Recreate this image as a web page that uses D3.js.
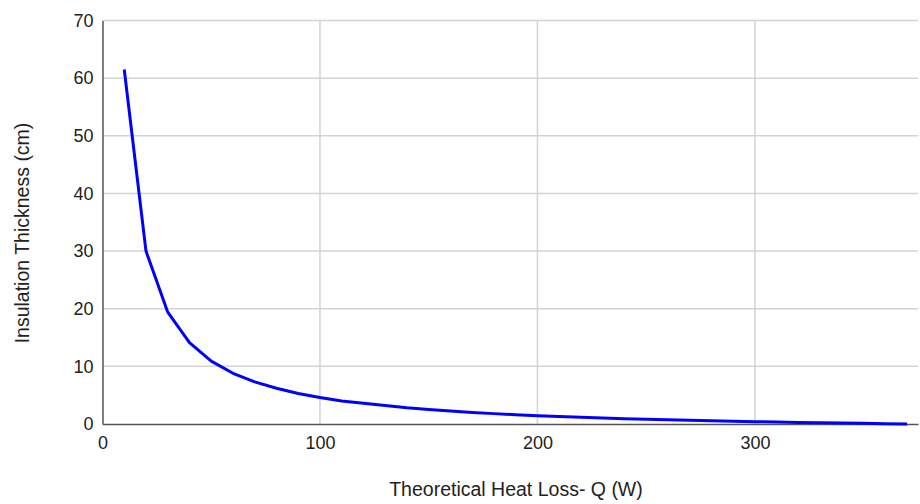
<!DOCTYPE html>
<html><head><meta charset="utf-8">
<script src="https://cdn.jsdelivr.net/npm/d3@7"></script>
<style>body{margin:0;background:#fff}svg{display:block}text{font-family:"Liberation Sans",Arial,sans-serif;fill:#222}</style>
</head><body><svg id="c" width="920" height="504"></svg>
<script>
const heatLoss = [10,20,30,40,50,60,70,80,90,100,110,120,130,140,150,160,170,180,190,200,210,220,230,240,250,260,270,280,290,300,310,320,330,340,350,360,370];
const thickness = [61.5,30.0,19.4,14.1,10.9,8.8,7.3,6.2,5.3,4.6,4.0,3.6,3.2,2.8,2.5,2.25,2.0,1.8,1.6,1.45,1.3,1.17,1.05,0.93,0.83,0.73,0.64,0.56,0.48,0.41,0.34,0.28,0.22,0.16,0.11,0.06,0.01];
const xTicks = [0,100,200,300];
const yTicks = [0,10,20,30,40,50,60,70];
const xTitle = "Theoretical Heat Loss- Q (W)";
const yTitle = "Insulation Thickness (cm)";

const svg = d3.select("#c");
const x = d3.scaleLinear().domain([0,375]).range([102.5,918]);
const y = d3.scaleLinear().domain([0,70]).range([424,20.5]);

// gridlines
svg.append("g").selectAll("line.h").data(yTicks.filter(d=>d>0)).join("line")
  .attr("x1",x(0)).attr("x2",x(375)).attr("y1",d=>y(d)).attr("y2",d=>y(d))
  .attr("stroke","#d3d3d3").attr("stroke-width",1.5);
svg.append("g").selectAll("line.v").data(xTicks.filter(d=>d>0)).join("line")
  .attr("x1",d=>x(d)).attr("x2",d=>x(d)).attr("y1",y(0)).attr("y2",y(70))
  .attr("stroke","#d3d3d3").attr("stroke-width",1.5);

// axes
const xAxis = d3.axisBottom(x).tickValues(xTicks).tickSize(0).tickPadding(12).tickFormat(d3.format("d"));
const gx = svg.append("g").attr("transform",`translate(0,${y(0)})`).call(xAxis);
gx.select(".domain").attr("stroke","#555").attr("stroke-width",1.5);
gx.selectAll("text").style("font-size","18px").attr("fill","#222");

const yAxis = d3.axisLeft(y).tickValues(yTicks).tickSize(0).tickPadding(9).tickFormat(d3.format("d"));
const gy = svg.append("g").attr("transform",`translate(${x(0)},0)`).call(yAxis);
gy.select(".domain").attr("stroke","#555").attr("stroke-width",1.5);
gy.selectAll("text").style("font-size","18px").attr("fill","#222");

// line
const data = heatLoss.map((q,i)=>({q, t:thickness[i]}));
svg.append("path").datum(data)
  .attr("fill","none").attr("stroke","#0000ff").attr("stroke-width",3)
  .attr("stroke-linejoin","round")
  .attr("d", d3.line().x(d=>x(d.q)).y(d=>y(d.t)));

// titles
svg.append("text").attr("x",516).attr("y",496).attr("text-anchor","middle")
  .style("font-size","19.5px").text(xTitle);
svg.append("text").attr("transform","translate(29,233) rotate(-90)").attr("text-anchor","middle")
  .style("font-size","19.5px").text(yTitle);
</script></body></html>
